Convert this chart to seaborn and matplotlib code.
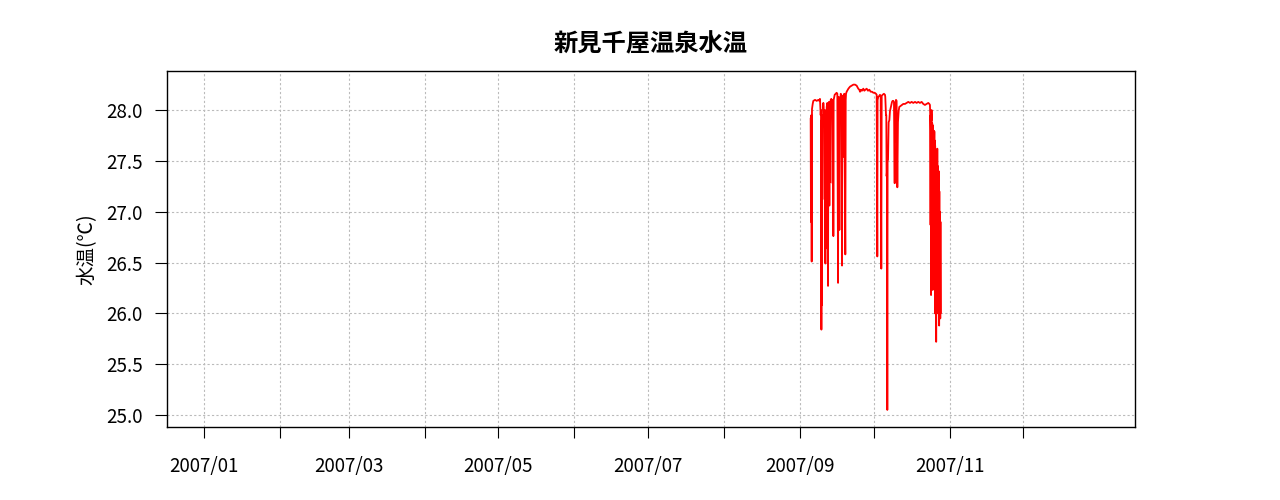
import matplotlib
matplotlib.use("Agg")
import matplotlib.pyplot as plt
import seaborn as sns
import pandas as pd

# ---- data ----
title = "新見千屋温泉水温"
ylabel = "水温(℃)"
start = "2007-09-05 00:00"
# elapsed hours since start (main period)
hours_main = [7, 10, 14, 17, 20, 27, 33, 50, 66, 82, 92, 98, 105, 108, 112, 115, 118, 121, 128, 131,
              138, 144, 147, 151, 154, 157, 164, 170, 173, 177, 180, 187, 190, 193, 196, 200, 203, 209,
              216, 222, 226, 229, 232, 242, 252, 261, 268, 275, 278, 281, 288, 291, 294, 301, 307, 314,
              317, 320, 327, 330, 336, 346, 350, 353, 359, 376, 392, 408, 425, 441, 457, 473, 483, 490,
              500, 509, 522, 532, 542, 555, 568, 581, 594, 607, 620, 633, 646, 653, 659, 662, 669, 679,
              685, 692, 698, 702, 711, 724, 734, 737, 744, 747, 750, 754, 757, 760, 764, 770, 777, 783,
              790, 796, 803, 809, 816, 822, 829, 832, 835, 838, 842, 848, 855, 858, 861, 868, 874, 887,
              900, 913, 930, 946, 962, 979, 995, 1011, 1028, 1044, 1060, 1076, 1093, 1109, 1125, 1142,
              1158, 1168, 1174]
temps_main = [27.92, 26.90, 27.95, 26.51, 28.01, 28.06, 28.09, 28.10, 28.09, 28.10, 28.09, 28.11, 27.95,
              28.00, 25.84, 27.90, 26.08, 27.95, 27.85, 28.07, 27.90, 27.12, 28.00, 26.49, 27.95, 26.64,
              28.03, 28.07, 27.90, 26.27, 28.05, 28.08, 27.06, 28.08, 27.29, 28.05, 28.10, 28.11, 28.06,
              27.28, 28.10, 26.76, 28.10, 28.15, 28.16, 28.17, 28.16, 26.30, 28.00, 28.13, 26.82, 28.10,
              27.89, 28.16, 28.15, 26.47, 28.14, 28.13, 27.54, 28.10, 28.16, 26.58, 28.10, 28.16, 28.18,
              28.21, 28.23, 28.24, 28.25, 28.25, 28.24, 28.21, 28.20, 28.18, 28.20, 28.19, 28.21, 28.19,
              28.20, 28.21, 28.19, 28.20, 28.18, 28.18, 28.17, 28.17, 28.16, 28.15, 26.56, 28.10, 28.13,
              28.14, 28.15, 28.13, 26.44, 28.14, 28.15, 28.16, 28.15, 28.13, 27.95, 27.95, 27.35, 27.40,
              25.05, 27.50, 27.51, 27.88, 27.90, 27.99, 28.02, 28.05, 28.08, 28.09, 28.09, 28.08, 27.28,
              28.05, 27.69, 28.05, 28.10, 28.09, 27.24, 27.60, 27.88, 27.99, 28.03, 28.04, 28.05, 28.06,
              28.06, 28.07, 28.08, 28.07, 28.08, 28.07, 28.08, 28.07, 28.08, 28.07, 28.08, 28.06, 28.05,
              28.06, 28.07, 28.06, 28.05]
# elapsed hours since start (final unstable period)
hours_tail = [1176, 1178, 1180, 1181, 1183, 1185, 1187, 1189, 1190, 1192,
              1194, 1196, 1198, 1199, 1201, 1203, 1205, 1207, 1208, 1210,
              1212, 1214, 1216, 1217, 1219, 1221, 1223, 1225, 1226, 1228,
              1230, 1232, 1234, 1235, 1237, 1239, 1241, 1243, 1244, 1246,
              1248, 1250, 1252, 1253, 1255, 1257, 1259, 1261, 1262, 1264,
              1266, 1268, 1270, 1271, 1273, 1275, 1277, 1279]
temps_tail = [27.95, 27.90, 26.87, 27.95, 27.80, 26.18, 27.96, 27.90, 28.00, 26.90,
              27.70, 27.87, 26.60, 27.60, 26.23, 27.85, 27.50, 26.46, 27.80, 27.60,
              26.30, 27.75, 27.50, 27.79, 26.50, 27.70, 26.00, 27.65, 27.30, 26.10,
              27.43, 26.20, 27.40, 25.72, 27.35, 27.00, 26.14, 27.50, 26.40, 27.62,
              26.30, 27.45, 26.00, 27.30, 27.20, 26.05, 27.40, 26.60, 27.30, 25.88,
              27.20, 26.10, 27.00, 26.20, 26.80, 25.95, 26.90, 26.00]
month_ticks = pd.date_range("2007-01-01", "2007-12-01", freq="MS")
month_labels = [d.strftime("%Y/%m") if d.month % 2 == 1 else "" for d in month_ticks]
y_ticks = [25.0, 25.5, 26.0, 26.5, 27.0, 27.5, 28.0]

hours = hours_main + hours_tail
temps = temps_main + temps_tail
df = pd.DataFrame({"time": pd.Timestamp(start) + pd.to_timedelta(hours, unit="h"),
                   "temp": temps})

sns.set_style("white")
plt.rcParams["font.family"] = ["Noto Sans CJK JP", "DejaVu Sans"]

fig = plt.figure(figsize=(12.8, 5), dpi=100)
ax = fig.add_axes([0.1305, 0.146, 0.7562, 0.712])
sns.lineplot(data=df, x="time", y="temp", ax=ax, color="#ff0000", linewidth=1.3,
             estimator=None, sort=False)

ax.set_xlim(pd.Timestamp("2006-12-16 22:00"), pd.Timestamp("2008-01-15 12:00"))
ax.set_ylim(24.882, 28.384)
ax.set_xticks(month_ticks)
ax.set_xticklabels(month_labels)
ax.set_yticks(y_ticks)
ax.set_yticklabels([f"{v:.1f}" for v in y_ticks])
ax.tick_params(axis="x", bottom=True, direction="out", length=8, width=0.8, pad=13,
               labelsize=13.5, colors="black")
ax.tick_params(axis="y", left=True, direction="out", length=8.6, width=0.8, pad=9,
               labelsize=13.5, colors="black")
ax.grid(True, color="#bbbbbb", linestyle=(0, (2, 2)), linewidth=0.8)
for s in ax.spines.values():
    s.set_color("black")
    s.set_linewidth(1.0)
ax.set_xlabel("")
ax.set_ylabel(ylabel, fontsize=14, labelpad=6, color="black")
ax.set_title(title, fontsize=17.5, fontweight="bold", pad=14, color="black")

fig.savefig("out.png", dpi=100)
